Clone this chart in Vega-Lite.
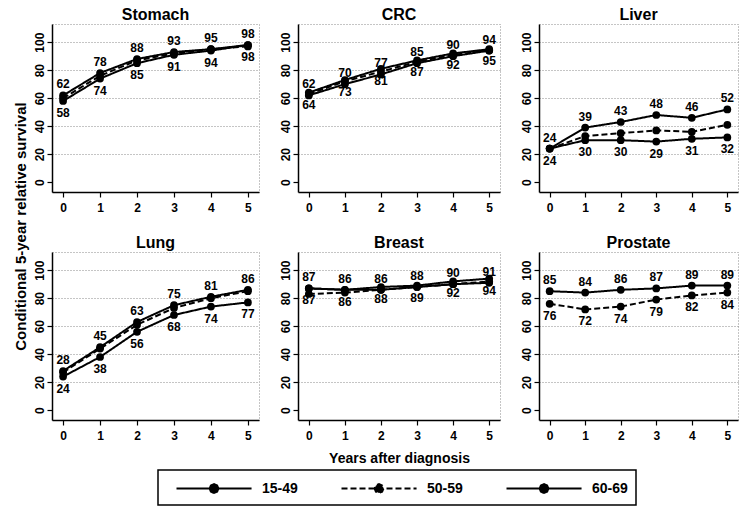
{
  "$schema": "https://vega.github.io/schema/vega-lite/v6.json",
  "padding": {"left": 12, "top": 6, "right": 2, "bottom": 2},
  "background": "white",
  "data": {"values": [
    {"cancer": "Stomach", "group": "15-49", "year": 0, "value": 62, "label": "above"},
    {"cancer": "Stomach", "group": "15-49", "year": 1, "value": 78, "label": "above"},
    {"cancer": "Stomach", "group": "15-49", "year": 2, "value": 88, "label": "above"},
    {"cancer": "Stomach", "group": "15-49", "year": 3, "value": 93, "label": "above"},
    {"cancer": "Stomach", "group": "15-49", "year": 4, "value": 95, "label": "above"},
    {"cancer": "Stomach", "group": "15-49", "year": 5, "value": 98, "label": "above"},
    {"cancer": "Stomach", "group": "50-59", "year": 0, "value": 60, "label": "none"},
    {"cancer": "Stomach", "group": "50-59", "year": 1, "value": 76, "label": "none"},
    {"cancer": "Stomach", "group": "50-59", "year": 2, "value": 87, "label": "none"},
    {"cancer": "Stomach", "group": "50-59", "year": 3, "value": 92, "label": "none"},
    {"cancer": "Stomach", "group": "50-59", "year": 4, "value": 95, "label": "none"},
    {"cancer": "Stomach", "group": "50-59", "year": 5, "value": 97, "label": "none"},
    {"cancer": "Stomach", "group": "60-69", "year": 0, "value": 58, "label": "below"},
    {"cancer": "Stomach", "group": "60-69", "year": 1, "value": 74, "label": "below"},
    {"cancer": "Stomach", "group": "60-69", "year": 2, "value": 85, "label": "below"},
    {"cancer": "Stomach", "group": "60-69", "year": 3, "value": 91, "label": "below"},
    {"cancer": "Stomach", "group": "60-69", "year": 4, "value": 94, "label": "below"},
    {"cancer": "Stomach", "group": "60-69", "year": 5, "value": 98, "label": "below"},
    {"cancer": "CRC", "group": "15-49", "year": 0, "value": 62, "label": "above"},
    {"cancer": "CRC", "group": "15-49", "year": 1, "value": 70, "label": "above"},
    {"cancer": "CRC", "group": "15-49", "year": 2, "value": 77, "label": "above"},
    {"cancer": "CRC", "group": "15-49", "year": 3, "value": 85, "label": "above"},
    {"cancer": "CRC", "group": "15-49", "year": 4, "value": 90, "label": "above"},
    {"cancer": "CRC", "group": "15-49", "year": 5, "value": 94, "label": "above"},
    {"cancer": "CRC", "group": "50-59", "year": 0, "value": 63, "label": "none"},
    {"cancer": "CRC", "group": "50-59", "year": 1, "value": 72, "label": "none"},
    {"cancer": "CRC", "group": "50-59", "year": 2, "value": 79, "label": "none"},
    {"cancer": "CRC", "group": "50-59", "year": 3, "value": 86, "label": "none"},
    {"cancer": "CRC", "group": "50-59", "year": 4, "value": 91, "label": "none"},
    {"cancer": "CRC", "group": "50-59", "year": 5, "value": 94, "label": "none"},
    {"cancer": "CRC", "group": "60-69", "year": 0, "value": 64, "label": "below"},
    {"cancer": "CRC", "group": "60-69", "year": 1, "value": 73, "label": "below"},
    {"cancer": "CRC", "group": "60-69", "year": 2, "value": 81, "label": "below"},
    {"cancer": "CRC", "group": "60-69", "year": 3, "value": 87, "label": "below"},
    {"cancer": "CRC", "group": "60-69", "year": 4, "value": 92, "label": "below"},
    {"cancer": "CRC", "group": "60-69", "year": 5, "value": 95, "label": "below"},
    {"cancer": "Liver", "group": "15-49", "year": 0, "value": 24, "label": "above"},
    {"cancer": "Liver", "group": "15-49", "year": 1, "value": 39, "label": "above"},
    {"cancer": "Liver", "group": "15-49", "year": 2, "value": 43, "label": "above"},
    {"cancer": "Liver", "group": "15-49", "year": 3, "value": 48, "label": "above"},
    {"cancer": "Liver", "group": "15-49", "year": 4, "value": 46, "label": "above"},
    {"cancer": "Liver", "group": "15-49", "year": 5, "value": 52, "label": "above"},
    {"cancer": "Liver", "group": "50-59", "year": 0, "value": 24, "label": "none"},
    {"cancer": "Liver", "group": "50-59", "year": 1, "value": 33, "label": "none"},
    {"cancer": "Liver", "group": "50-59", "year": 2, "value": 35, "label": "none"},
    {"cancer": "Liver", "group": "50-59", "year": 3, "value": 37, "label": "none"},
    {"cancer": "Liver", "group": "50-59", "year": 4, "value": 36, "label": "none"},
    {"cancer": "Liver", "group": "50-59", "year": 5, "value": 41, "label": "none"},
    {"cancer": "Liver", "group": "60-69", "year": 0, "value": 24, "label": "below"},
    {"cancer": "Liver", "group": "60-69", "year": 1, "value": 30, "label": "below"},
    {"cancer": "Liver", "group": "60-69", "year": 2, "value": 30, "label": "below"},
    {"cancer": "Liver", "group": "60-69", "year": 3, "value": 29, "label": "below"},
    {"cancer": "Liver", "group": "60-69", "year": 4, "value": 31, "label": "below"},
    {"cancer": "Liver", "group": "60-69", "year": 5, "value": 32, "label": "below"},
    {"cancer": "Lung", "group": "15-49", "year": 0, "value": 28, "label": "above"},
    {"cancer": "Lung", "group": "15-49", "year": 1, "value": 45, "label": "above"},
    {"cancer": "Lung", "group": "15-49", "year": 2, "value": 63, "label": "above"},
    {"cancer": "Lung", "group": "15-49", "year": 3, "value": 75, "label": "above"},
    {"cancer": "Lung", "group": "15-49", "year": 4, "value": 81, "label": "above"},
    {"cancer": "Lung", "group": "15-49", "year": 5, "value": 86, "label": "above"},
    {"cancer": "Lung", "group": "50-59", "year": 0, "value": 27, "label": "none"},
    {"cancer": "Lung", "group": "50-59", "year": 1, "value": 44, "label": "none"},
    {"cancer": "Lung", "group": "50-59", "year": 2, "value": 61, "label": "none"},
    {"cancer": "Lung", "group": "50-59", "year": 3, "value": 73, "label": "none"},
    {"cancer": "Lung", "group": "50-59", "year": 4, "value": 80, "label": "none"},
    {"cancer": "Lung", "group": "50-59", "year": 5, "value": 85, "label": "none"},
    {"cancer": "Lung", "group": "60-69", "year": 0, "value": 24, "label": "below"},
    {"cancer": "Lung", "group": "60-69", "year": 1, "value": 38, "label": "below"},
    {"cancer": "Lung", "group": "60-69", "year": 2, "value": 56, "label": "below"},
    {"cancer": "Lung", "group": "60-69", "year": 3, "value": 68, "label": "below"},
    {"cancer": "Lung", "group": "60-69", "year": 4, "value": 74, "label": "below"},
    {"cancer": "Lung", "group": "60-69", "year": 5, "value": 77, "label": "below"},
    {"cancer": "Breast", "group": "15-49", "year": 0, "value": 87, "label": "above"},
    {"cancer": "Breast", "group": "15-49", "year": 1, "value": 86, "label": "above"},
    {"cancer": "Breast", "group": "15-49", "year": 2, "value": 86, "label": "above"},
    {"cancer": "Breast", "group": "15-49", "year": 3, "value": 88, "label": "above"},
    {"cancer": "Breast", "group": "15-49", "year": 4, "value": 90, "label": "above"},
    {"cancer": "Breast", "group": "15-49", "year": 5, "value": 91, "label": "above"},
    {"cancer": "Breast", "group": "50-59", "year": 0, "value": 83, "label": "none"},
    {"cancer": "Breast", "group": "50-59", "year": 1, "value": 84, "label": "none"},
    {"cancer": "Breast", "group": "50-59", "year": 2, "value": 86, "label": "none"},
    {"cancer": "Breast", "group": "50-59", "year": 3, "value": 88, "label": "none"},
    {"cancer": "Breast", "group": "50-59", "year": 4, "value": 90, "label": "none"},
    {"cancer": "Breast", "group": "50-59", "year": 5, "value": 92, "label": "none"},
    {"cancer": "Breast", "group": "60-69", "year": 0, "value": 87, "label": "below"},
    {"cancer": "Breast", "group": "60-69", "year": 1, "value": 86, "label": "below"},
    {"cancer": "Breast", "group": "60-69", "year": 2, "value": 88, "label": "below"},
    {"cancer": "Breast", "group": "60-69", "year": 3, "value": 89, "label": "below"},
    {"cancer": "Breast", "group": "60-69", "year": 4, "value": 92, "label": "below"},
    {"cancer": "Breast", "group": "60-69", "year": 5, "value": 94, "label": "below"},
    {"cancer": "Prostate", "group": "50-59", "year": 0, "value": 76, "label": "below"},
    {"cancer": "Prostate", "group": "50-59", "year": 1, "value": 72, "label": "below"},
    {"cancer": "Prostate", "group": "50-59", "year": 2, "value": 74, "label": "below"},
    {"cancer": "Prostate", "group": "50-59", "year": 3, "value": 79, "label": "below"},
    {"cancer": "Prostate", "group": "50-59", "year": 4, "value": 82, "label": "below"},
    {"cancer": "Prostate", "group": "50-59", "year": 5, "value": 84, "label": "below"},
    {"cancer": "Prostate", "group": "60-69", "year": 0, "value": 85, "label": "above"},
    {"cancer": "Prostate", "group": "60-69", "year": 1, "value": 84, "label": "above"},
    {"cancer": "Prostate", "group": "60-69", "year": 2, "value": 86, "label": "above"},
    {"cancer": "Prostate", "group": "60-69", "year": 3, "value": 87, "label": "above"},
    {"cancer": "Prostate", "group": "60-69", "year": 4, "value": 89, "label": "above"},
    {"cancer": "Prostate", "group": "60-69", "year": 5, "value": 89, "label": "above"}
  ]},
  "columns": 3,
  "spacing": {"row": 60, "column": 39},
  "bounds": "flush",
  "concat": [
    {
      "width": 207, "height": 168, "title": "Stomach",
      "transform": [{"filter": "datum.cancer === 'Stomach'"}],
      "encoding": {
        "x": {"field": "year", "type": "quantitative", "scale": {"domain": [-0.3, 5.3], "nice": false, "zero": false}, "axis": {"values": [0, 1, 2, 3, 4, 5], "title": null}},
        "y": {"field": "value", "type": "quantitative", "scale": {"domain": [-7, 113], "nice": false}, "axis": {"values": [0, 20, 40, 60, 80, 100], "title": "Conditional 5-year relative survival", "titleY": 202, "titlePadding": 5, "titleFontSize": 15, "gridOpacity": {"condition": {"test": "datum.value === 0", "value": 0}, "value": 1}}}
      },
      "layer": [
        {"mark": {"type": "line", "color": "black", "strokeWidth": 2}, "encoding": {"strokeDash": {"field": "group", "type": "nominal", "scale": {"domain": ["15-49", "50-59", "60-69"], "range": [[1, 0], [6, 3], [1, 0]]}}}},
        {"mark": {"type": "point", "filled": true, "color": "black", "size": 60, "opacity": 1}, "encoding": {"detail": {"field": "group"}}},
        {"transform": [{"filter": "datum.label === 'above'"}], "mark": {"type": "text", "dy": -11, "fontWeight": "bold", "fontSize": 12, "color": "black"}, "encoding": {"text": {"field": "value"}}},
        {"transform": [{"filter": "datum.label === 'below'"}], "mark": {"type": "text", "dy": 12, "fontWeight": "bold", "fontSize": 12, "color": "black"}, "encoding": {"text": {"field": "value"}}}
      ]
    },
    {
      "width": 202, "height": 168, "title": "CRC",
      "transform": [{"filter": "datum.cancer === 'CRC'"}],
      "encoding": {
        "x": {"field": "year", "type": "quantitative", "scale": {"domain": [-0.3, 5.3], "nice": false, "zero": false}, "axis": {"values": [0, 1, 2, 3, 4, 5], "title": null}},
        "y": {"field": "value", "type": "quantitative", "scale": {"domain": [-7, 113], "nice": false}, "axis": {"values": [0, 20, 40, 60, 80, 100], "title": null, "gridOpacity": {"condition": {"test": "datum.value === 0", "value": 0}, "value": 1}}}
      },
      "layer": [
        {"mark": {"type": "line", "color": "black", "strokeWidth": 2}, "encoding": {"strokeDash": {"field": "group", "type": "nominal", "scale": {"domain": ["15-49", "50-59", "60-69"], "range": [[1, 0], [6, 3], [1, 0]]}}}},
        {"mark": {"type": "point", "filled": true, "color": "black", "size": 60, "opacity": 1}, "encoding": {"detail": {"field": "group"}}},
        {"transform": [{"filter": "datum.label === 'above'"}], "mark": {"type": "text", "dy": -11, "fontWeight": "bold", "fontSize": 12, "color": "black"}, "encoding": {"text": {"field": "value"}}},
        {"transform": [{"filter": "datum.label === 'below'"}], "mark": {"type": "text", "dy": 12, "fontWeight": "bold", "fontSize": 12, "color": "black"}, "encoding": {"text": {"field": "value"}}}
      ]
    },
    {
      "width": 199, "height": 168, "title": "Liver",
      "transform": [{"filter": "datum.cancer === 'Liver'"}],
      "encoding": {
        "x": {"field": "year", "type": "quantitative", "scale": {"domain": [-0.3, 5.3], "nice": false, "zero": false}, "axis": {"values": [0, 1, 2, 3, 4, 5], "title": null}},
        "y": {"field": "value", "type": "quantitative", "scale": {"domain": [-7, 113], "nice": false}, "axis": {"values": [0, 20, 40, 60, 80, 100], "title": null, "gridOpacity": {"condition": {"test": "datum.value === 0", "value": 0}, "value": 1}}}
      },
      "layer": [
        {"mark": {"type": "line", "color": "black", "strokeWidth": 2}, "encoding": {"strokeDash": {"field": "group", "type": "nominal", "scale": {"domain": ["15-49", "50-59", "60-69"], "range": [[1, 0], [6, 3], [1, 0]]}}}},
        {"mark": {"type": "point", "filled": true, "color": "black", "size": 60, "opacity": 1}, "encoding": {"detail": {"field": "group"}}},
        {"transform": [{"filter": "datum.label === 'above'"}], "mark": {"type": "text", "dy": -11, "fontWeight": "bold", "fontSize": 12, "color": "black"}, "encoding": {"text": {"field": "value"}}},
        {"transform": [{"filter": "datum.label === 'below'"}], "mark": {"type": "text", "dy": 12, "fontWeight": "bold", "fontSize": 12, "color": "black"}, "encoding": {"text": {"field": "value"}}}
      ]
    },
    {
      "width": 207, "height": 168, "title": "Lung",
      "transform": [{"filter": "datum.cancer === 'Lung'"}],
      "encoding": {
        "x": {"field": "year", "type": "quantitative", "scale": {"domain": [-0.3, 5.3], "nice": false, "zero": false}, "axis": {"values": [0, 1, 2, 3, 4, 5], "title": null}},
        "y": {"field": "value", "type": "quantitative", "scale": {"domain": [-7, 113], "nice": false}, "axis": {"values": [0, 20, 40, 60, 80, 100], "title": null, "gridOpacity": {"condition": {"test": "datum.value === 0", "value": 0}, "value": 1}}}
      },
      "layer": [
        {"mark": {"type": "line", "color": "black", "strokeWidth": 2}, "encoding": {"strokeDash": {"field": "group", "type": "nominal", "scale": {"domain": ["15-49", "50-59", "60-69"], "range": [[1, 0], [6, 3], [1, 0]]}}}},
        {"mark": {"type": "point", "filled": true, "color": "black", "size": 60, "opacity": 1}, "encoding": {"detail": {"field": "group"}}},
        {"transform": [{"filter": "datum.label === 'above'"}], "mark": {"type": "text", "dy": -11, "fontWeight": "bold", "fontSize": 12, "color": "black"}, "encoding": {"text": {"field": "value"}}},
        {"transform": [{"filter": "datum.label === 'below'"}], "mark": {"type": "text", "dy": 12, "fontWeight": "bold", "fontSize": 12, "color": "black"}, "encoding": {"text": {"field": "value"}}}
      ]
    },
    {
      "width": 202, "height": 168, "title": "Breast",
      "transform": [{"filter": "datum.cancer === 'Breast'"}],
      "encoding": {
        "x": {"field": "year", "type": "quantitative", "scale": {"domain": [-0.3, 5.3], "nice": false, "zero": false}, "axis": {"values": [0, 1, 2, 3, 4, 5], "title": "Years after diagnosis", "titlePadding": 10}},
        "y": {"field": "value", "type": "quantitative", "scale": {"domain": [-7, 113], "nice": false}, "axis": {"values": [0, 20, 40, 60, 80, 100], "title": null, "gridOpacity": {"condition": {"test": "datum.value === 0", "value": 0}, "value": 1}}}
      },
      "layer": [
        {"mark": {"type": "line", "color": "black", "strokeWidth": 2}, "encoding": {"strokeDash": {"field": "group", "type": "nominal", "scale": {"domain": ["15-49", "50-59", "60-69"], "range": [[1, 0], [6, 3], [1, 0]]}}}},
        {"mark": {"type": "point", "filled": true, "color": "black", "size": 60, "opacity": 1}, "encoding": {"detail": {"field": "group"}}},
        {"transform": [{"filter": "datum.label === 'above'"}], "mark": {"type": "text", "dy": -11, "fontWeight": "bold", "fontSize": 12, "color": "black"}, "encoding": {"text": {"field": "value"}}},
        {"transform": [{"filter": "datum.label === 'below'"}], "mark": {"type": "text", "dy": 12, "fontWeight": "bold", "fontSize": 12, "color": "black"}, "encoding": {"text": {"field": "value"}}}
      ]
    },
    {
      "width": 199, "height": 168, "title": "Prostate",
      "transform": [{"filter": "datum.cancer === 'Prostate'"}],
      "encoding": {
        "x": {"field": "year", "type": "quantitative", "scale": {"domain": [-0.3, 5.3], "nice": false, "zero": false}, "axis": {"values": [0, 1, 2, 3, 4, 5], "title": null}},
        "y": {"field": "value", "type": "quantitative", "scale": {"domain": [-7, 113], "nice": false}, "axis": {"values": [0, 20, 40, 60, 80, 100], "title": null, "gridOpacity": {"condition": {"test": "datum.value === 0", "value": 0}, "value": 1}}}
      },
      "layer": [
        {"mark": {"type": "line", "color": "black", "strokeWidth": 2}, "encoding": {"strokeDash": {"field": "group", "type": "nominal", "scale": {"domain": ["15-49", "50-59", "60-69"], "range": [[1, 0], [6, 3], [1, 0]]}}}},
        {"mark": {"type": "point", "filled": true, "color": "black", "size": 60, "opacity": 1}, "encoding": {"detail": {"field": "group"}}},
        {"transform": [{"filter": "datum.label === 'above'"}], "mark": {"type": "text", "dy": -11, "fontWeight": "bold", "fontSize": 12, "color": "black"}, "encoding": {"text": {"field": "value"}}},
        {"transform": [{"filter": "datum.label === 'below'"}], "mark": {"type": "text", "dy": 12, "fontWeight": "bold", "fontSize": 12, "color": "black"}, "encoding": {"text": {"field": "value"}}}
      ]
    }
  ],
  "config": {
    "font": "Liberation Sans",
    "view": {"stroke": "#8a8a8a", "strokeDash": [1, 2], "strokeWidth": 1},
    "title": {"fontSize": 16, "fontWeight": "bold", "color": "black", "offset": 1, "font": "Liberation Sans", "frame": "group"},
    "axis": {
      "labelFont": "Liberation Sans", "labelFontWeight": "bold", "labelFontSize": 12, "labelColor": "black",
      "domainColor": "black", "domainWidth": 1.5, "tickColor": "black", "tickSize": 5, "tickWidth": 1.2,
      "titleFont": "Liberation Sans", "titleFontWeight": "bold", "titleFontSize": 14, "titleColor": "black",
      "gridColor": "#8a8a8a", "gridDash": [1, 2], "gridWidth": 1
    },
    "axisX": {"grid": false, "labelPadding": 5, "format": "d"},
    "axisY": {"grid": true, "labelAngle": 270, "labelPadding": 1, "format": "d"},
    "legend": {
      "orient": "none", "legendX": 106, "legendY": 446, "direction": "horizontal", "title": null,
      "symbolType": "M0,0H8M4.47,0L4.33,0.33L4,0.47L3.67,0.33L3.53,0L3.67,-0.33L4,-0.47L4.33,-0.33Z",
      "symbolSize": 352, "symbolStrokeWidth": 2, "symbolStrokeColor": "black", "symbolFillColor": "black",
      "symbolOffset": 0, "labelOffset": 75,
      "labelFont": "Liberation Sans", "labelFontSize": 14, "labelFontWeight": "bold", "labelColor": "black",
      "strokeColor": "black", "strokeWidth": 1.5, "padding": 8, "columnPadding": 33
    }
  }
}
